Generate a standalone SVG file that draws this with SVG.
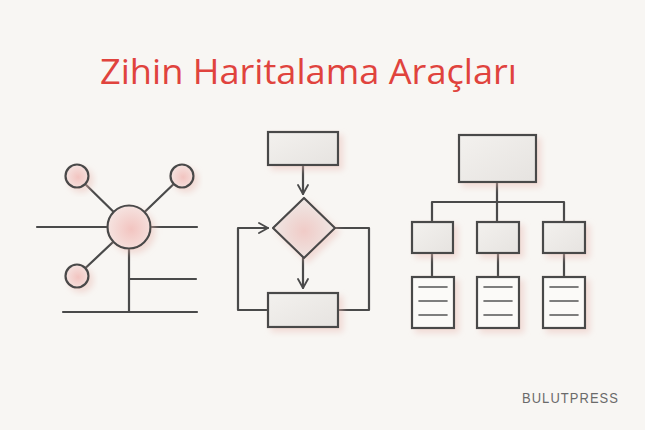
<svg xmlns="http://www.w3.org/2000/svg" width="645" height="430" viewBox="0 0 645 430">
<defs>
<style>
.ln{fill:none;stroke:#4a4a4a;stroke-width:2.2;stroke-linecap:round;stroke-linejoin:round}
.box{fill:url(#gbox);stroke:#484848;stroke-width:2.2;filter:url(#sh)}
.doc{fill:#fbfaf8;stroke:#484848;stroke-width:2.2;filter:url(#sh)}
.circ{fill:url(#gpink);stroke:#4a4a4a;stroke-width:2.2;filter:url(#sh)}
.dl{stroke:#555;stroke-width:1.6;stroke-linecap:round}
</style>
<linearGradient id="gbox" x1="0" y1="0" x2="1" y2="1">
<stop offset="0" stop-color="#f3f1ee"/><stop offset="1" stop-color="#e6e3e0"/>
</linearGradient>
<radialGradient id="gpink" cx="0.55" cy="0.55" r="0.6">
<stop offset="0" stop-color="#f2c4c0"/><stop offset="1" stop-color="#f6e6e3"/>
</radialGradient>
<radialGradient id="gdia" cx="0.5" cy="0.55" r="0.55">
<stop offset="0" stop-color="#f0cbc7"/><stop offset="1" stop-color="#efe9e6"/>
</radialGradient>
<filter id="sh" x="-30%" y="-30%" width="170%" height="170%">
<feDropShadow dx="4" dy="4" stdDeviation="3" flood-color="#e8b9b2" flood-opacity="0.45"/>
</filter>
<marker id="ah" viewBox="0 0 12 12" refX="10" refY="6" markerWidth="12" markerHeight="12" markerUnits="userSpaceOnUse" orient="auto">
<path d="M1,1 L10,6 L1,11" fill="none" stroke="#4a4a4a" stroke-width="1.8" stroke-linecap="round" stroke-linejoin="round"/>
</marker>
</defs>
<rect width="645" height="430" fill="#f8f6f3"/>
<text x="100" y="84" font-family="'Open Sans', 'Liberation Sans', sans-serif" font-size="35" fill="#e0433d" textLength="417" lengthAdjust="spacingAndGlyphs">Zihin Haritalama Araçları</text>

<g id="connectors">
<!-- mind map -->
<line class="ln" x1="37" y1="227" x2="197" y2="227"/>
<line class="ln" x1="129" y1="227" x2="129" y2="312"/>
<line class="ln" x1="129" y1="279" x2="196" y2="279"/>
<line class="ln" x1="63" y1="312" x2="197" y2="312"/>
<line class="ln" x1="77" y1="176" x2="129" y2="227"/>
<line class="ln" x1="182" y1="176" x2="129" y2="227"/>
<line class="ln" x1="77" y1="276" x2="129" y2="227"/>
<!-- flowchart -->
<line class="ln" x1="303" y1="165" x2="303" y2="194" marker-end="url(#ah)"/>
<line class="ln" x1="303" y1="258" x2="303" y2="288" marker-end="url(#ah)"/>
<polyline class="ln" points="268,310 238,310 238,228 268,228" marker-end="url(#ah)"/>
<polyline class="ln" points="335,228 369,228 369,310 338,310"/>
<!-- org chart -->
<line class="ln" x1="497" y1="182" x2="497" y2="222"/>
<polyline class="ln" points="432,222 432,202 564,202 564,222"/>
<line class="ln" x1="432" y1="253" x2="432" y2="277"/>
<line class="ln" x1="498" y1="253" x2="498" y2="277"/>
<line class="ln" x1="564" y1="253" x2="564" y2="277"/>
</g>

<g id="mind-center"><circle class="circ" cx="129" cy="227" r="21.5"/></g>
<g id="mind-tl"><circle class="circ" cx="77" cy="176" r="11.5"/></g>
<g id="mind-tr"><circle class="circ" cx="182" cy="176" r="11.5"/></g>
<g id="mind-bl"><circle class="circ" cx="77" cy="276" r="11.5"/></g>

<g id="flow-start"><rect class="box" x="268" y="132" width="70" height="33"/></g>
<g id="flow-decision"><polygon points="304,198 335,228 304,258 273,228" fill="url(#gdia)" stroke="#484848" stroke-width="2.2" stroke-linejoin="round" filter="url(#sh)"/></g>
<g id="flow-end"><rect class="box" x="268" y="293" width="70" height="34"/></g>

<g id="org-top"><rect class="box" x="459" y="135" width="77" height="47"/></g>
<g id="org-a"><rect class="box" x="412" y="222" width="41" height="31"/></g>
<g id="org-b"><rect class="box" x="477" y="222" width="42" height="31"/></g>
<g id="org-c"><rect class="box" x="543" y="222" width="42" height="31"/></g>
<g id="doc-a"><rect class="doc" x="412" y="277" width="42" height="51"/>
<line class="dl" x1="419" y1="287" x2="447" y2="287"/><line class="dl" x1="419" y1="301" x2="447" y2="301"/><line class="dl" x1="419" y1="315" x2="447" y2="315"/></g>
<g id="doc-b"><rect class="doc" x="477" y="277" width="42" height="51"/>
<line class="dl" x1="484" y1="287" x2="512" y2="287"/><line class="dl" x1="484" y1="301" x2="512" y2="301"/><line class="dl" x1="484" y1="315" x2="512" y2="315"/></g>
<g id="doc-c"><rect class="doc" x="543" y="277" width="42" height="51"/>
<line class="dl" x1="550" y1="287" x2="578" y2="287"/><line class="dl" x1="550" y1="301" x2="578" y2="301"/><line class="dl" x1="550" y1="315" x2="578" y2="315"/></g>

<text x="522" y="403" font-family="'Liberation Sans', Arial, sans-serif" font-size="14.5" fill="#6a6a6a" letter-spacing="1.2" textLength="97" lengthAdjust="spacingAndGlyphs">BULUTPRESS</text>
</svg>
